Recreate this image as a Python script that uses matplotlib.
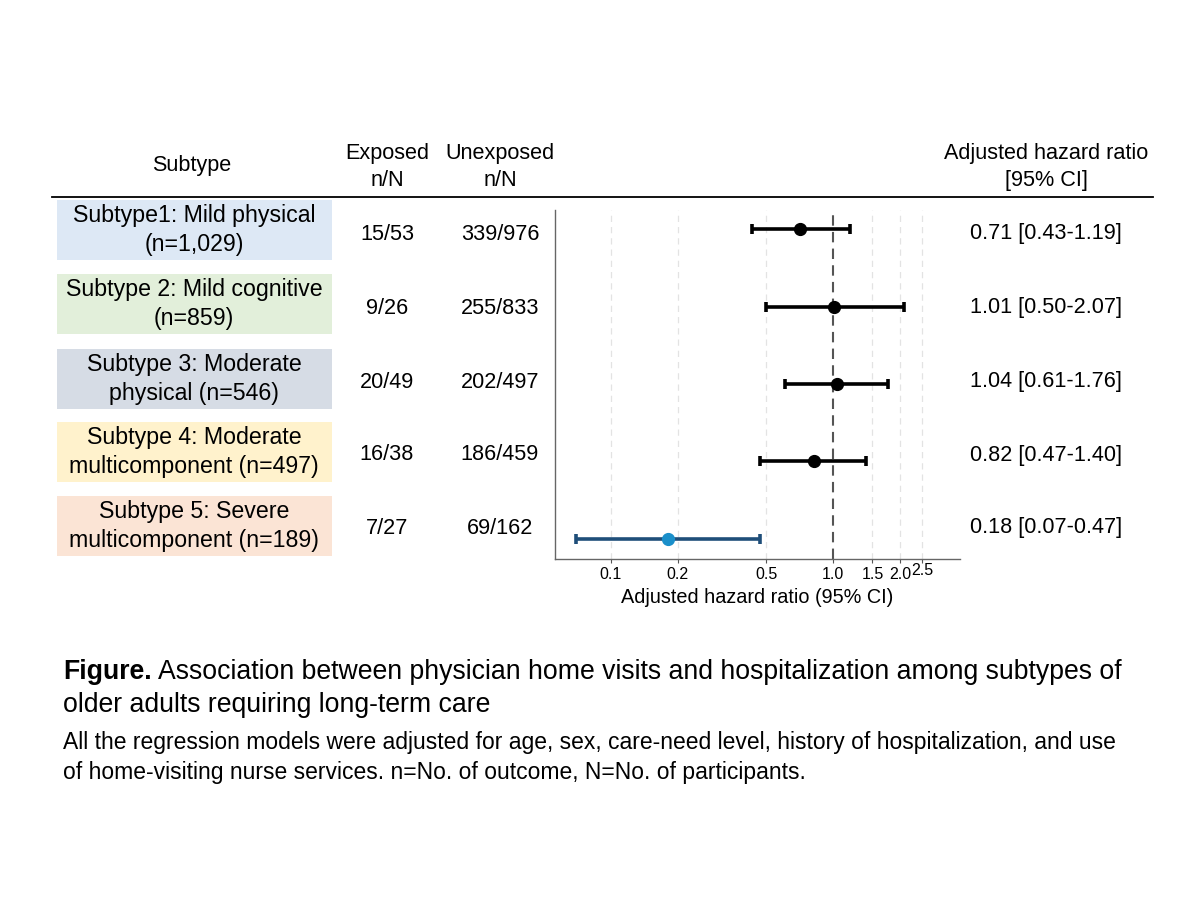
import matplotlib
matplotlib.use("Agg")
import matplotlib.pyplot as plt
from matplotlib.patches import Rectangle
from matplotlib.lines import Line2D
import numpy as np

plt.rcParams['font.family'] = ['Liberation Sans', 'DejaVu Sans']

# ---------------- data ----------------
subtypes = ["Subtype1: Mild physical\n(n=1,029)",
            "Subtype 2: Mild cognitive\n(n=859)",
            "Subtype 3: Moderate\nphysical (n=546)",
            "Subtype 4: Moderate\nmulticomponent (n=497)",
            "Subtype 5: Severe\nmulticomponent (n=189)"]
exposed = ["15/53", "9/26", "20/49", "16/38", "7/27"]
unexposed = ["339/976", "255/833", "202/497", "186/459", "69/162"]
hr = [0.71, 1.01, 1.04, 0.82, 0.18]
ci_low = [0.43, 0.50, 0.61, 0.47, 0.07]
ci_high = [1.19, 2.07, 1.76, 1.40, 0.47]
box_colors = ["#dde8f5", "#e2efda", "#d6dce5", "#fff2cc", "#fbe4d5"]
xticks = [0.1, 0.2, 0.5, 1.0, 1.5, 2.0, 2.5]
xticklabels = ["0.1", "0.2", "0.5", "1.0", "1.5", "2.0", "2.5"]

W, H = 1200, 900
fig = plt.figure(figsize=(12, 9), dpi=100)

def fx(x):
    return x / W

def fy(y):
    return 1 - y / H

# ---------------- forest axes ----------------
ax_l, ax_r, ax_t, ax_b = 555, 960, 210, 559
ax = fig.add_axes([fx(ax_l), fy(ax_b), fx(ax_r - ax_l), (ax_b - ax_t) / H])
ax.set_xscale('log')
ax.set_xlim(0.0562, 3.71)
ax.set_ylim(4.26, -0.25)

for t in [0.1, 0.2, 0.5, 1.5, 2.0, 2.5]:
    ax.axvline(t, color="#e3e3e3", lw=0.9, ls=(0, (5, 4)), zorder=0)
ax.axvline(1.0, color="#555555", lw=1.5, ls=(0, (5, 3)), zorder=1)

for i in range(len(hr)):
    if i == 4:
        lc, mc = "#1f4e79", "#1a8fca"
    else:
        lc, mc = "black", "black"
    ax.errorbar(hr[i], i, xerr=[[hr[i] - ci_low[i]], [ci_high[i] - hr[i]]],
                fmt='o', color=lc, mfc=mc, mec=mc, ms=8.5, elinewidth=2.6,
                capsize=3.5, capthick=2.6, zorder=3)

ax.set_xticks(xticks)
ax.set_xticklabels(xticklabels)
ax.xaxis.set_minor_locator(matplotlib.ticker.NullLocator())
ax.set_yticks([])
ax.tick_params(axis='x', labelsize=11.5, length=3, color="#555555", pad=3)
for lbl, t in zip(ax.get_xticklabels(), xticks):
    if t == 2.5:
        lbl.set_y(0.012)
for s in ["top", "right"]:
    ax.spines[s].set_visible(False)
for s in ["left", "bottom"]:
    ax.spines[s].set_color("#666666")
    ax.spines[s].set_linewidth(1.0)
ax.set_xlabel("Adjusted hazard ratio (95% CI)", fontsize=14.3, labelpad=4)

# ---------------- header ----------------
fs = 15.6
fsb = 16.7
fig.text(fx(192), fy(166), "Subtype", ha='center', va='center', fontsize=fs)
fig.text(fx(387), fy(167), "Exposed\nn/N", ha='center', va='center', fontsize=fs, linespacing=1.33)
fig.text(fx(500), fy(167), "Unexposed\nn/N", ha='center', va='center', fontsize=fs, linespacing=1.33)
fig.text(fx(1046), fy(167), "Adjusted hazard ratio\n[95% CI]", ha='center', va='center', fontsize=fs, linespacing=1.33)
fig.add_artist(Line2D([fx(52), fx(1153)], [fy(197), fy(197)], color="black", lw=1.3))

# ---------------- table rows ----------------
box_top = [200, 274, 349, 422, 496]
box_h = 60
row_y = [234, 308, 382, 455, 528]
for i in range(len(subtypes)):
    fig.add_artist(Rectangle((fx(57), fy(box_top[i] + box_h)), fx(332 - 57), box_h / H,
                             facecolor=box_colors[i], edgecolor='none', zorder=0))
    fig.text(fx(194), fy(box_top[i] + box_h / 2), subtypes[i], ha='center', va='center',
             fontsize=fsb, linespacing=1.28)
    fig.text(fx(387), fy(row_y[i]), exposed[i], ha='center', va='center', fontsize=fs)
    fig.text(fx(500), fy(row_y[i]), unexposed[i], ha='center', va='center', fontsize=fs)
    fig.text(fx(1046), fy(row_y[i]), f"{hr[i]:.2f} [{ci_low[i]:.2f}-{ci_high[i]:.2f}]",
             ha='center', va='center', fontsize=fs)

# ---------------- caption ----------------
cap_fs = 19.2
t1 = fig.text(fx(63), fy(672), "Figure.", ha='left', va='center', fontsize=cap_fs, fontweight='bold')
fig.canvas.draw()
bb = t1.get_window_extent()
fig.text(bb.x1 / W + 0.005, fy(672),
         "Association between physician home visits and hospitalization among subtypes of",
         ha='left', va='center', fontsize=cap_fs)
fig.text(fx(63), fy(705), "older adults requiring long-term care", ha='left', va='center', fontsize=cap_fs)
fig.text(fx(63), fy(743),
         "All the regression models were adjusted for age, sex, care-need level, history of hospitalization, and use",
         ha='left', va='center', fontsize=16.5)
fig.text(fx(63), fy(772),
         "of home-visiting nurse services. n=No. of outcome, N=No. of participants.",
         ha='left', va='center', fontsize=16.5)

fig.savefig("out.png", dpi=100, facecolor="white")
